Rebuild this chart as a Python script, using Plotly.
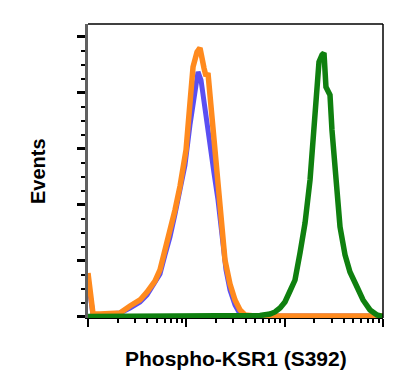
import plotly.graph_objects as go

# Fluorescence intensity (arbitrary units, log axis) and event counts
blue_x = [10, 10.5, 11.25, 16.75, 21.13, 26.73, 33.81, 39.81, 42.76, 47.97, 53.95, 60.67, 68.23,
          76.74, 86.30, 96.9, 108.9, 119.7, 131.5, 141.0, 151.4, 162.2, 174.2, 191.0, 209.9,
          230.7, 253.1, 278.0, 312.6, 351.6, 395.4, 10000]
blue_y = [33.0, 19.6, 1.8, 2.7, 3.6, 8.0, 13.4, 19.6, 24.1, 29.5, 38.4, 55.4, 71.4,
          92.0, 111.6, 135.7, 171.5, 198.2, 218.8, 211.6, 193.8, 175.9, 158.1, 128.6, 104.5,
          68.8, 42.0, 24.1, 10.7, 2.7, 0.9, 0.9]

orange_x = [10, 10.47, 11.25, 13.24, 16.75, 21.13, 26.73, 33.81, 39.81, 42.76, 47.97, 53.95,
            60.67, 68.23, 76.74, 86.30, 92.47, 99.3, 108.9, 117.0, 128.5, 137.7, 151.4, 158.5,
            166.0, 174.2, 186.6, 205.1, 219.8, 230.7, 247.2, 278.0, 312.6, 351.6, 395.4, 500, 10000]
orange_y = [39.3, 24.1, 2.7, 2.7, 3.6, 3.6, 9.8, 15.2, 22.3, 25.9, 32.1, 42.0,
            59.8, 75.0, 95.6, 117.0, 131.3, 149.1, 191.1, 223.3, 236.6, 240.2, 222.0, 215.0,
            217.9, 196.5, 167.0, 137.5, 104.5, 77.7, 50.9, 29.5, 15.2, 6.3, 1.8, 0.9, 0.9]

green_x = [10, 444.4, 561, 709.6, 797.6, 897.2, 1007, 1133, 1274, 1432, 1611, 1811, 1941, 2084,
           2234, 2399, 2512, 2630, 2891, 3027, 3251, 3404, 3656, 4111, 4613, 5445, 6266, 7379,
           8690, 10000]
green_y = [0.4, 0.9, 1.3, 2.7, 4.5, 8.0, 13.4, 23.2, 33.0, 57.2, 83.9, 122.3, 158.1, 196.5,
           227.7, 234.0, 235.7, 205.4, 198.2, 167.0, 131.3, 104.5, 80.4, 55.4, 40.2, 26.8, 15.2,
           6.3, 1.8, 0.4]

x_title = "Phospho-KSR1 (S392)"
y_title = "Events"

fig = go.Figure()
fig.add_trace(go.Scatter(x=blue_x, y=blue_y, mode="lines",
                         line=dict(color="#5a4ff2", width=5), showlegend=False))
fig.add_trace(go.Scatter(x=orange_x, y=orange_y, mode="lines",
                         line=dict(color="#ff8a1e", width=5.5), showlegend=False))
fig.add_trace(go.Scatter(x=green_x, y=green_y, mode="lines",
                         line=dict(color="#0f800f", width=5.5), showlegend=False))

fig.update_layout(
    width=389, height=376,
    margin=dict(l=80, r=14, t=16, b=66),
    paper_bgcolor="white", plot_bgcolor="white",
    font=dict(family="Liberation Sans, Arial, sans-serif", color="black"),
    xaxis=dict(type="log", range=[1, 4], dtick=1, showgrid=False, zeroline=False,
               showticklabels=False, ticks="outside", ticklen=8, tickwidth=2,
               tickcolor="black", showline=True, linecolor="black", linewidth=1,
               minor=dict(ticks="outside", ticklen=4, tickwidth=1.5, tickcolor="black",
                          dtick="D1", showgrid=False)),
    yaxis=dict(range=[-0.9, 261.6], tick0=0, dtick=50, showgrid=False, zeroline=False,
               showticklabels=False, ticks="outside", ticklen=8, tickwidth=2.5,
               tickcolor="black", showline=True, linecolor="#606060", linewidth=2.5,
               minor=dict(ticks="outside", ticklen=4, tickwidth=1.5, tickcolor="black",
                          dtick=12.5, showgrid=False)),
    shapes=[
        dict(type="line", xref="paper", yref="paper", x0=0, x1=1, y0=1, y1=1,
             line=dict(color="black", width=1.5)),
        dict(type="line", xref="paper", yref="paper", x0=1, x1=1, y0=0, y1=1,
             line=dict(color="black", width=1.5)),
    ],
    annotations=[
        dict(text="<b>%s</b>" % x_title, xref="paper", yref="paper", x=0.5, y=0,
             xanchor="center", yanchor="middle", yshift=-40, xshift=0, showarrow=False,
             font=dict(size=21, color="black")),
        dict(text="<b>%s</b>" % y_title, xref="paper", yref="paper", x=0, y=0.5,
             xanchor="center", yanchor="middle", xshift=-50, yshift=0, textangle=-90,
             showarrow=False, font=dict(size=20, color="black")),
    ],
)

fig.write_html("out.html")
